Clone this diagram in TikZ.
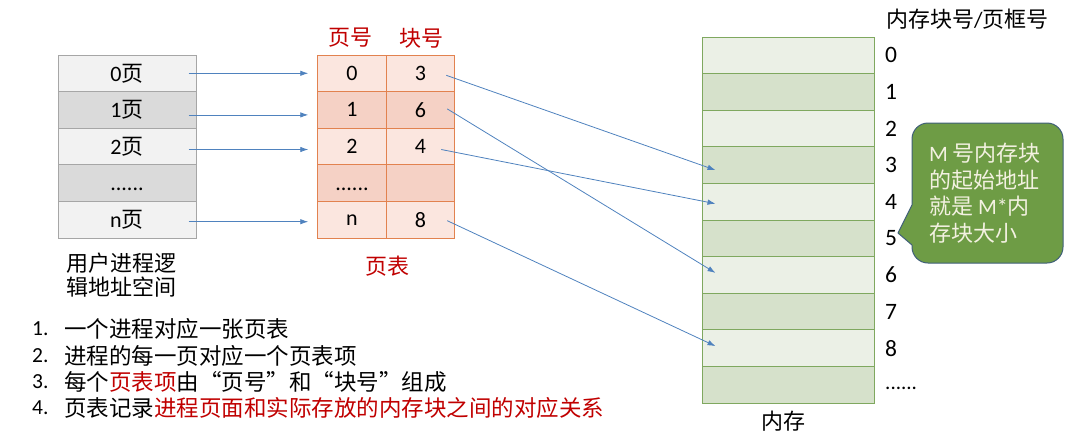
\documentclass[tikz,border=0pt]{standalone}
\usepackage{fontspec}
\setmainfont{Carlito}
\newfontfamily\cjk{Noto Sans CJK SC}
\usetikzlibrary{arrows.meta}
\definecolor{gA}{HTML}{F2F2F2}
\definecolor{gB}{HTML}{DADADA}
\definecolor{gE}{HTML}{A6A6A6}
\definecolor{pA}{HTML}{FBE6DF}
\definecolor{pB}{HTML}{F5D1C5}
\definecolor{pE}{HTML}{E2824F}
\definecolor{mA}{HTML}{EBF0E6}
\definecolor{mB}{HTML}{D6E1CB}
\definecolor{mE}{HTML}{7FA85F}
\definecolor{cF}{HTML}{6E9C45}
\definecolor{cE}{HTML}{3F5F78}
\definecolor{cT}{HTML}{F3F1E1}
\definecolor{ar}{HTML}{4F82BE}
\definecolor{rd}{HTML}{C00000}
\newcommand\zh[1]{{\cjk #1}}
\newcommand\fwl{\makebox[1em][r]{“}}
\newcommand\fwr{\makebox[1em][l]{”}}
\begin{document}
\begin{tikzpicture}[x=1pt,y=-1pt,
  cell/.style={draw, inner sep=0pt, minimum height=36.6pt, line width=1pt, font=\fontsize{22}{25}\selectfont},
  lrow/.style={cell, draw=gE, minimum width=138pt},
  prow/.style={cell, draw=pE, minimum width=68.5pt},
  mrow/.style={cell, draw=mE, minimum width=172pt},
  conn/.style={draw=ar, line width=0.8pt, -{Latex[length=8pt,width=5.5pt]}},
  lbl/.style={inner sep=0pt, font=\fontsize{22}{25}\selectfont},
  num/.style={inner sep=0pt, anchor=west, font=\fontsize{23.5}{25}\selectfont},
  inum/.style={inner sep=0pt, anchor=west, font=\fontsize{21.5}{24}\selectfont},
  item/.style={inner sep=0pt, anchor=west, font=\fontsize{22.5}{26}\selectfont},
]
\useasboundingbox (0,0) rectangle (1083,440);

% user logical address space
\node[lrow, fill=gA] (l0) at (127,73.3)  {0\zh{页}};
\node[lrow, fill=gB] (l1) at (127,109.9) {1\zh{页}};
\node[lrow, fill=gA] (l2) at (127,146.5) {2\zh{页}};
\node[lrow, fill=gB] (l3) at (127,183.1) {\vphantom{0}......};
\node[lrow, fill=gA] (l4) at (127,219.7) {n\zh{页}};
\node[lbl, anchor=west, align=left, font=\fontsize{22}{24}\selectfont] (ltxt) at (66,275) {\zh{用户进程逻}\\\zh{辑地址空间}};

% page table
\node[lbl, text=rd] (h1) at (350,38) {\zh{页号}};
\node[lbl, text=rd] (h2) at (421,38) {\zh{块号}};
\node[prow, fill=pA] (p0) at (352,73.3)  {0};
\node[prow, fill=pB] (p1) at (352,109.9) {1};
\node[prow, fill=pA] (p2) at (352,146.5) {2};
\node[prow, fill=pB] (p3) at (352,183.1) {\vphantom{0}......};
\node[prow, fill=pA] (p4) at (352,219.7) {n};
\node[prow, fill=pA] (b0) at (420.5,73.3)  {3};
\node[prow, fill=pB] (b1) at (420.5,109.9) {6};
\node[prow, fill=pA] (b2) at (420.5,146.5) {4};
\node[prow, fill=pB] (b3) at (420.5,183.1) {};
\node[prow, fill=pA] (b4) at (420.5,219.7) {8};
\node[lbl, text=rd] (ptxt) at (387,266) {\zh{页表}};

% memory
\foreach \i/\f in {0/mA,1/mB,2/mA,3/mB,4/mA,5/mB,6/mA,7/mB,8/mA,9/mB}{
  \node[mrow, fill=\f] (m\i) at (788,{55.3+36.6*\i}) {};
}
\foreach \i in {0,...,8}{
  \node[num] (ml\i) at (885,{55.3+36.6*\i}) {\i};
}
\node[num, font=\fontsize{21}{25}\selectfont] (mld) at (885,388) {......};
\node[lbl, anchor=west] (mtitle) at (886,19) {\zh{内存块号}/\zh{页框号}};
\node[lbl] (mtxt) at (783,421) {\zh{内存}};

% arrows: pages -> page table
\draw[conn] ([xshift=-8pt]l0.east) -- ([xshift=-9pt]p0.west);
\draw[conn] ([xshift=-8pt,yshift=-5pt]l1.east) -- ([xshift=-9pt,yshift=-5pt]p1.west);
\draw[conn] ([xshift=-8pt,yshift=-3pt]l2.east) -- ([xshift=-9pt,yshift=-3pt]p2.west);
\draw[conn] ([xshift=-8pt,yshift=-2pt]l4.east) -- ([xshift=-9pt,yshift=-2pt]p4.west);

% arrows: page table -> memory
\draw[conn] ([xshift=-9pt,yshift=-2pt]b0.east) -- ([xshift=14pt,yshift=-5pt]m3.west);
\draw[conn] ([xshift=-8pt,yshift=1pt]b1.east) -- ([xshift=14pt,yshift=2pt]m6.west);
\draw[conn] ([xshift=-14pt,yshift=-3pt]b2.east) -- ([xshift=14pt,yshift=-2pt]m4.west);
\draw[conn] ([xshift=-8pt,yshift=-1pt]b4.east) -- ([xshift=14pt,yshift=2pt]m8.west);

% callout
\node[draw=cE, fill=cF, rounded corners=16pt, line width=1pt, minimum width=151pt, minimum height=140pt, inner sep=0pt] (co) at (987.5,193) {};
\fill[cF] (912,205) -- (898,233) -- (912,245) -- (913.6,245) -- (913.6,205) -- cycle;
\draw[cE, line width=1pt, line join=round] (912,205) -- (898,233) -- (912,245);
\node[lbl, anchor=west, align=left, text=cT, font=\fontsize{22}{26.5}\selectfont] (cotxt) at (929,193)
  {M \zh{号内存块}\\\zh{的起始地址}\\\zh{就是} M*\zh{内}\\\zh{存块大小}};

% bottom list
\node[inum] (n1) at (32,329) {1.};
\node[inum] (n2) at (32,356) {2.};
\node[inum] (n3) at (32,382) {3.};
\node[inum] (n4) at (32,408) {4.};
\node[item] (t1) at (64,329) {\zh{一个进程对应一张页表}};
\node[item] (t2) at (64,356) {\zh{进程的每一页对应一个页表项}};
\node[item] (t3) at (64,382) {\zh{每个}\textcolor{rd}{\zh{页表项}}\zh{由\fwl 页号\fwr 和\fwl 块号\fwr 组成}};
\node[item] (t4) at (64,408) {\zh{页表记录}\textcolor{rd}{\zh{进程页面和实际存放的内存块之间的对应关系}}};
\end{tikzpicture}
\end{document}
